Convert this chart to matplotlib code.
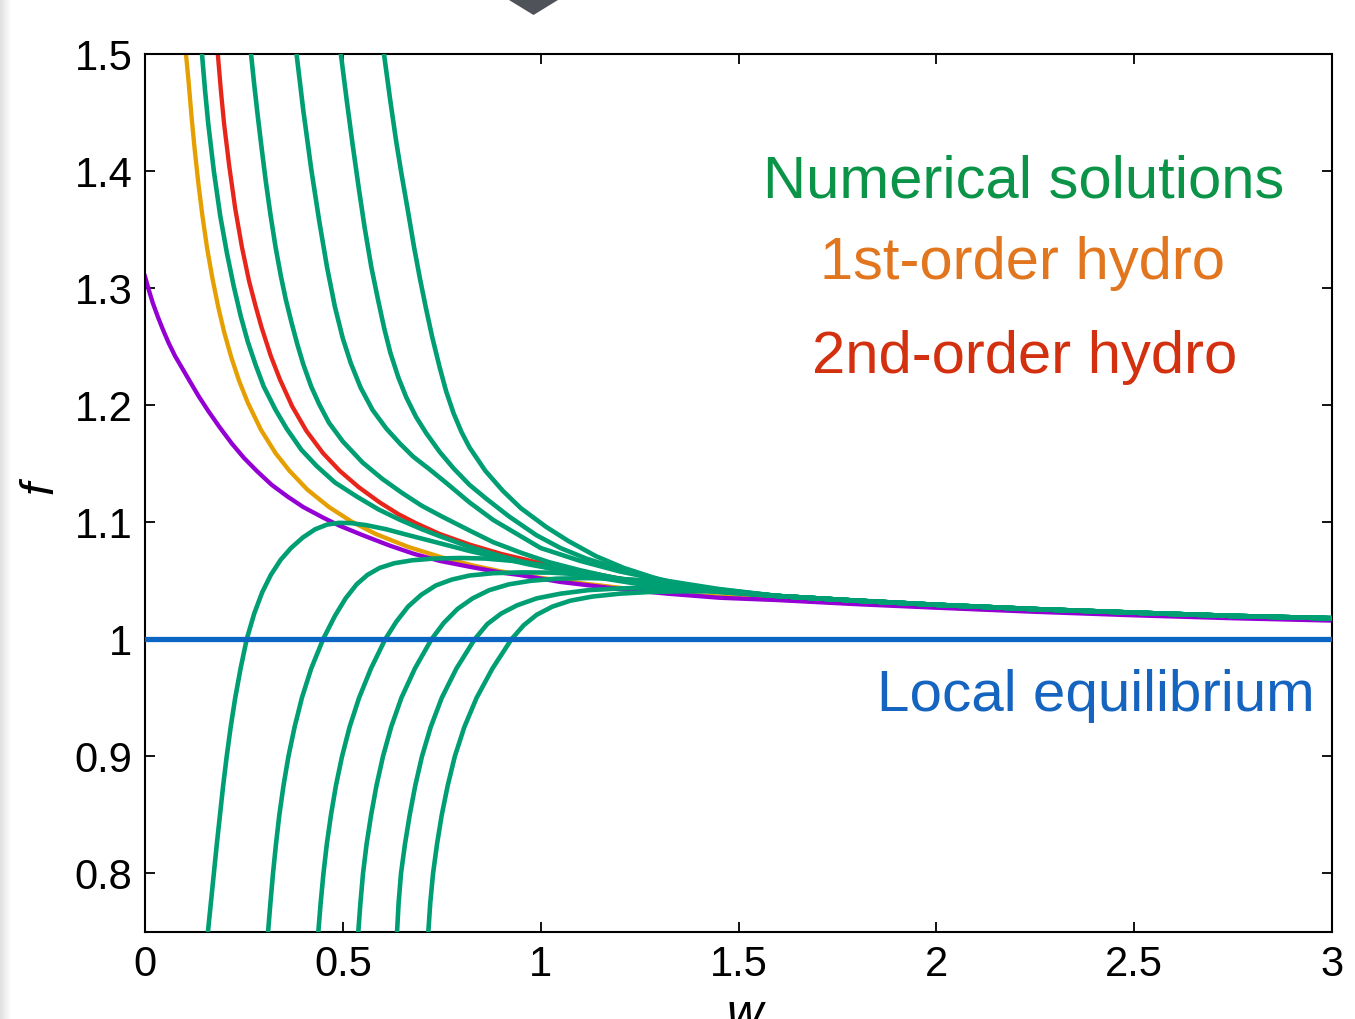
import matplotlib
matplotlib.use("Agg")
import matplotlib.pyplot as plt
import numpy as np

# ---- values (w, f) ----
attractor_w = [0.0, 0.01, 0.02, 0.033, 0.046, 0.06, 0.076, 0.095, 0.114, 0.135, 0.16, 0.189, 0.22, 0.25,
               0.282, 0.32, 0.36, 0.40, 0.45, 0.492, 0.55, 0.619, 0.68, 0.745, 0.82, 0.9, 0.946, 1.05,
               1.199, 1.32, 1.452, 1.6, 1.8, 2.0, 2.25, 2.5, 2.75, 3.0]
attractor_f = [1.310, 1.298, 1.287, 1.275, 1.264, 1.253, 1.242, 1.231, 1.220, 1.208, 1.195, 1.181, 1.167, 1.155,
               1.144, 1.132, 1.122, 1.113, 1.104, 1.097, 1.089, 1.080, 1.073, 1.067, 1.062, 1.057, 1.055, 1.049,
               1.043, 1.039, 1.0355, 1.0335, 1.030, 1.027, 1.0235, 1.0205, 1.018, 1.016]

hydro1_w = [0.1035, 0.11, 0.118, 0.126, 0.135, 0.145, 0.157, 0.17, 0.185, 0.2, 0.218, 0.2376, 0.26, 0.293,
            0.33, 0.365, 0.41, 0.465, 0.52, 0.583, 0.665, 0.75, 0.83, 0.9, 1.0, 1.1, 1.25, 1.4, 1.6, 1.8,
            2.1, 2.4, 2.7, 3.0]
hydro1_f = [1.5, 1.477, 1.445, 1.417, 1.389, 1.362, 1.334, 1.309, 1.284, 1.2625, 1.241, 1.221, 1.202, 1.179,
            1.159, 1.144, 1.128, 1.113, 1.101, 1.090, 1.079, 1.070, 1.063, 1.058, 1.0525, 1.048, 1.042, 1.0375,
            1.034, 1.0305, 1.026, 1.0225, 1.0195, 1.0172]

hydro2_w = [0.184, 0.192, 0.200, 0.213, 0.228, 0.245, 0.263, 0.28, 0.295, 0.318, 0.341, 0.372, 0.408, 0.45,
            0.492, 0.54, 0.593, 0.64, 0.686, 0.745, 0.82, 0.90, 1.0, 1.1, 1.25, 1.4, 1.6, 1.8, 2.0, 2.25,
            2.5, 2.75, 3.0]
hydro2_f = [1.5, 1.468, 1.44, 1.404, 1.368, 1.335, 1.306, 1.284, 1.266, 1.242, 1.222, 1.199, 1.178, 1.159,
            1.144, 1.130, 1.117, 1.107, 1.099, 1.090, 1.081, 1.073, 1.065, 1.058, 1.049, 1.043, 1.037, 1.033,
            1.0295, 1.0258, 1.0228, 1.020, 1.018]

# shared tail of all numerical solutions
tail_w = [1.6, 1.8, 2.0, 2.25, 2.5, 2.75, 3.0]
tail_f = [1.037, 1.033, 1.0295, 1.0258, 1.0228, 1.020, 1.018]

# numerical solutions coming down from above
down_w = [
    [0.144, 0.152, 0.160, 0.174, 0.190, 0.207, 0.224, 0.242, 0.260, 0.28, 0.30, 0.33, 0.358, 0.395, 0.434,
     0.48, 0.535, 0.59, 0.645, 0.70, 0.746, 0.82, 0.90, 0.98, 1.05, 1.15, 1.25, 1.35, 1.45],
    [0.268, 0.276, 0.285, 0.295, 0.305, 0.317, 0.330, 0.343, 0.356, 0.370, 0.385, 0.400, 0.420, 0.440, 0.465,
     0.50, 0.55, 0.60, 0.65, 0.70, 0.75, 0.82, 0.88, 0.95, 1.02, 1.1, 1.18, 1.25, 1.35, 1.45],
    [0.383, 0.40, 0.42, 0.44, 0.46, 0.48, 0.50, 0.52, 0.545, 0.575, 0.61, 0.645, 0.678, 0.72, 0.76, 0.82,
     0.88, 0.95, 1.0, 1.1, 1.2, 1.3, 1.45],
    [0.495, 0.51, 0.525, 0.54, 0.555, 0.572, 0.589, 0.605, 0.620, 0.64, 0.66, 0.685, 0.711, 0.745, 0.78, 0.82,
     0.863, 0.92, 0.989, 1.05, 1.115, 1.2, 1.283, 1.37, 1.45],
    [0.604, 0.62, 0.635, 0.648, 0.665, 0.68, 0.695, 0.71, 0.726, 0.745, 0.761, 0.78, 0.80, 0.82, 0.86, 0.904,
     0.95, 1.014, 1.07, 1.14, 1.21, 1.283, 1.36, 1.452],
]
down_f = [
    [1.5, 1.468, 1.440, 1.400, 1.362, 1.330, 1.302, 1.276, 1.254, 1.234, 1.216, 1.196, 1.180, 1.162, 1.148,
     1.134, 1.122, 1.111, 1.102, 1.094, 1.088, 1.079, 1.071, 1.064, 1.059, 1.053, 1.048, 1.044, 1.041],
    [1.5, 1.474, 1.447, 1.419, 1.392, 1.363, 1.335, 1.311, 1.290, 1.271, 1.252, 1.235, 1.216, 1.201, 1.185,
     1.169, 1.151, 1.137, 1.125, 1.114, 1.105, 1.093, 1.083, 1.074, 1.066, 1.059, 1.053, 1.048, 1.044, 1.041],
    [1.5, 1.452, 1.402, 1.358, 1.318, 1.284, 1.257, 1.236, 1.215, 1.196, 1.180, 1.167, 1.156, 1.145, 1.134,
     1.117, 1.102, 1.088, 1.078, 1.067, 1.058, 1.051, 1.043],
    [1.5, 1.46, 1.422, 1.386, 1.352, 1.318, 1.29, 1.265, 1.245, 1.224, 1.207, 1.19, 1.176, 1.160, 1.146, 1.132,
     1.120, 1.105, 1.089, 1.078, 1.069, 1.060, 1.052, 1.046, 1.042],
    [1.5, 1.46, 1.425, 1.398, 1.365, 1.335, 1.308, 1.283, 1.258, 1.232, 1.212, 1.193, 1.177, 1.164, 1.144,
     1.127, 1.112, 1.096, 1.084, 1.071, 1.061, 1.053, 1.046, 1.041],
]

# numerical solutions coming up from below
up_w = [
    [0.159, 0.1665, 0.174, 0.1815, 0.1895, 0.1975, 0.2065, 0.2165, 0.228, 0.2415, 0.257, 0.276, 0.296, 0.318,
     0.343, 0.369, 0.399, 0.430, 0.460, 0.490, 0.520, 0.560, 0.610, 0.660, 0.746, 0.820, 0.898, 0.97, 1.05,
     1.15, 1.252, 1.35, 1.45],
    [0.311, 0.317, 0.3235, 0.331, 0.3395, 0.350, 0.3625, 0.378, 0.3965, 0.420, 0.450, 0.480, 0.507, 0.535,
     0.562, 0.593, 0.630, 0.675, 0.73, 0.80, 0.86, 0.948, 1.02, 1.10, 1.18, 1.252, 1.35, 1.45],
    [0.438, 0.444, 0.451, 0.4595, 0.470, 0.4825, 0.498, 0.517, 0.541, 0.571, 0.607, 0.635, 0.665, 0.698,
     0.735, 0.775, 0.82, 0.88, 0.95, 1.024, 1.10, 1.18, 1.277, 1.36, 1.45],
    [0.539, 0.5445, 0.551, 0.560, 0.5715, 0.585, 0.6015, 0.622, 0.648, 0.682, 0.724, 0.755, 0.79, 0.828, 0.87,
     0.92, 0.975, 1.04, 1.11, 1.18, 1.26, 1.353, 1.45],
    [0.637, 0.641, 0.647, 0.657, 0.669, 0.683, 0.700, 0.722, 0.750, 0.787, 0.833, 0.865, 0.90, 0.94, 0.99,
     1.05, 1.12, 1.20, 1.28, 1.36, 1.45],
    [0.716, 0.721, 0.728, 0.738, 0.750, 0.765, 0.783, 0.807, 0.838, 0.878, 0.926, 0.957, 0.99, 1.03, 1.075,
     1.13, 1.20, 1.28, 1.36, 1.45],
]
up_f = [
    [0.75, 0.775, 0.80, 0.825, 0.85, 0.875, 0.90, 0.925, 0.95, 0.975, 1.0, 1.022, 1.040, 1.055, 1.068, 1.078,
     1.087, 1.094, 1.098, 1.0995, 1.0993, 1.0975, 1.094, 1.0895, 1.082, 1.0755, 1.0695, 1.064, 1.059, 1.0525,
     1.047, 1.0435, 1.0405],
    [0.75, 0.775, 0.80, 0.825, 0.85, 0.875, 0.90, 0.925, 0.95, 0.975, 1.0, 1.02, 1.035, 1.047, 1.055, 1.061,
     1.065, 1.0675, 1.069, 1.0695, 1.069, 1.0665, 1.0625, 1.058, 1.053, 1.048, 1.044, 1.0405],
    [0.75, 0.775, 0.80, 0.825, 0.85, 0.875, 0.90, 0.925, 0.95, 0.975, 1.0, 1.015, 1.028, 1.038, 1.046, 1.051,
     1.0545, 1.0565, 1.0572, 1.057, 1.0555, 1.0525, 1.049, 1.045, 1.0415],
    [0.75, 0.775, 0.80, 0.825, 0.85, 0.875, 0.90, 0.925, 0.95, 0.975, 1.0, 1.014, 1.026, 1.035, 1.042, 1.047,
     1.050, 1.0518, 1.0523, 1.052, 1.0505, 1.047, 1.0425],
    [0.75, 0.775, 0.80, 0.825, 0.85, 0.875, 0.90, 0.925, 0.95, 0.975, 1.0, 1.013, 1.022, 1.029, 1.035, 1.039,
     1.042, 1.0435, 1.0442, 1.0435, 1.042],
    [0.75, 0.775, 0.80, 0.825, 0.85, 0.875, 0.90, 0.925, 0.95, 0.975, 1.0, 1.012, 1.021, 1.028, 1.033, 1.0365,
     1.039, 1.0405, 1.041, 1.041],
]

xticks = [0, 0.5, 1, 1.5, 2, 2.5, 3]
xticklabels = ["0", "0.5", "1", "1.5", "2", "2.5", "3"]
yticks = [0.8, 0.9, 1.0, 1.1, 1.2, 1.3, 1.4, 1.5]
yticklabels = ["0.8", "0.9", "1", "1.1", "1.2", "1.3", "1.4", "1.5"]

GREEN = "#009e73"

plt.rcParams["font.family"] = ["Liberation Sans", "DejaVu Sans"]

W, H = 1355, 1019
fig = plt.figure(figsize=(W / 100, H / 100), dpi=100)
ax = fig.add_axes([145 / W, (H - 932) / H, 1187 / W, 878 / H])

ax.plot(hydro1_w, hydro1_f, color="#e69f00", lw=3.1, zorder=2)
ax.plot(attractor_w, attractor_f, color="#9400d3", lw=3.1, zorder=2.1)
ax.plot(hydro2_w, hydro2_f, color="#e8251b", lw=3.1, zorder=2.2)
for ws, fs in zip(down_w + up_w, down_f + up_f):
    ax.plot(ws + tail_w, fs + tail_f, color=GREEN, lw=3.3, zorder=3,
            solid_joinstyle="round")
ax.axhline(1.0, color="#0a66c2", lw=3.8, zorder=4)

ax.set_xlim(0, 3)
ax.set_ylim(0.75, 1.5)
ax.set_xticks(xticks)
ax.set_xticklabels(xticklabels)
ax.set_yticks(yticks)
ax.set_yticklabels(yticklabels)
ax.tick_params(direction="in", length=7, width=1.3, top=True, right=True,
               labelsize=30, pad=9)
for s in ax.spines.values():
    s.set_linewidth(1.5)

ax.text(0.740, 0.854, "Numerical solutions", color="#0b9447", fontsize=43,
        ha="center", va="center", transform=ax.transAxes)
ax.text(0.739, 0.761, "1st-order hydro", color="#e2761f", fontsize=43,
        ha="center", va="center", transform=ax.transAxes)
ax.text(0.741, 0.654, "2nd-order hydro", color="#d3300f", fontsize=43,
        ha="center", va="center", transform=ax.transAxes)
ax.text(0.801, 0.269, "Local equilibrium", color="#1565c0", fontsize=42,
        ha="center", va="center", transform=ax.transAxes)

fig.text(40 / W, 1 - 487 / H, "f", fontsize=34, style="italic", rotation=90,
         ha="center", va="center")
fig.text(745 / W, 1 - 993 / H, "w", fontsize=36, style="italic",
         ha="center", va="top")

# screenshot leftovers: grey pointer at the top and shaded left edge
fig.patches.append(plt.Polygon([[509 / W, 1.0], [558 / W, 1.0], [533.5 / W, 1 - 15 / H]],
                               closed=True, transform=fig.transFigure,
                               facecolor="#4f5359", edgecolor="none"))
edge = fig.add_axes([0, 0, 12 / W, 1])
edge.imshow(np.linspace(0.88, 1.0, 12)[None, :], cmap="gray", vmin=0, vmax=1,
            aspect="auto")
edge.axis("off")

fig.savefig("out.png", dpi=100)
